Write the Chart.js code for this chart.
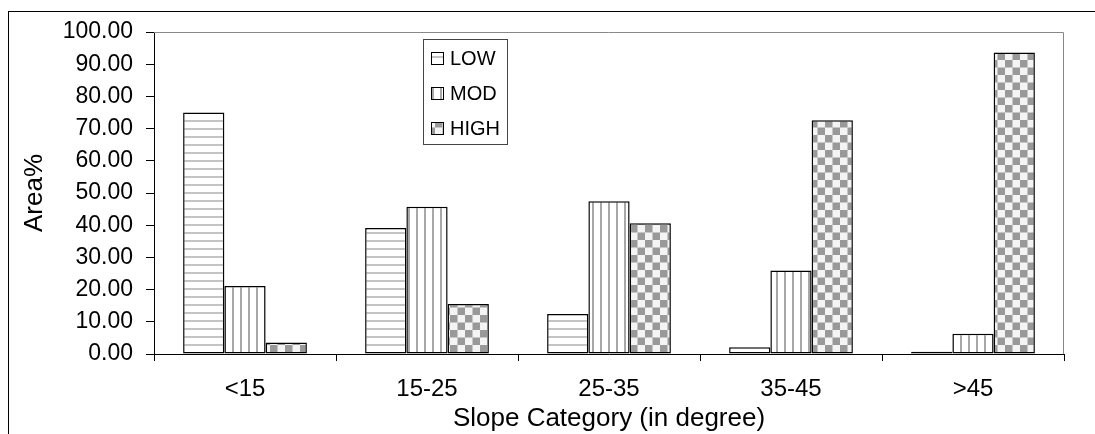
<!DOCTYPE html>
<html>
<head>
<meta charset="utf-8">
<script src="https://cdn.jsdelivr.net/npm/chart.js@4/dist/chart.umd.min.js"></script>
<style>
  html, body { margin: 0; padding: 0; background: #fff; }
  #wrap { position: relative; width: 1095px; height: 434px; }
  #frame { position: absolute; left: 8px; top: 11px; width: 1100px; height: 440px;
           border-left: 1px solid #000; border-top: 1px solid #000; pointer-events: none; }
</style>
</head>
<body>
<div id="wrap">
  <canvas id="chart" width="1095" height="434"></canvas>
  <div id="frame"></div>
</div>
<script>
const categories = ["<15", "15-25", "25-35", "35-45", ">45"];
const lowValues = [75.0, 39.1, 12.4, 2.1, 0.7];
const modValues = [21.1, 45.7, 47.4, 25.9, 6.3];
const highValues = [3.6, 15.5, 40.6, 72.6, 93.6];
const seriesNames = ["LOW", "MOD", "HIGH"];

const FONT = "'Liberation Sans', Arial, sans-serif";

// fill patterns like the old excel ones
function makePattern(kind) {
  const c = document.createElement("canvas");
  const x = c.getContext("2d");
  if (kind === "h") {
    c.width = 8; c.height = 8;
    x.fillStyle = "#fff"; x.fillRect(0, 0, 8, 8);
    x.fillStyle = "#c4c4c4"; x.fillRect(0, 0, 8, 2);
  } else if (kind === "v") {
    c.width = 8; c.height = 8;
    x.fillStyle = "#fff"; x.fillRect(0, 0, 8, 8);
    x.fillStyle = "#a8a8a8"; x.fillRect(0, 0, 2, 8);
  } else {
    c.width = 15; c.height = 15;
    x.fillStyle = "#f4f4f4"; x.fillRect(0, 0, 15, 15);
    x.fillStyle = "#999"; x.fillRect(0, 0, 7.5, 7.5); x.fillRect(7.5, 7.5, 7.5, 7.5);
  }
  return document.getElementById("chart").getContext("2d").createPattern(c, "repeat");
}

const fills = [makePattern("h"), makePattern("v"), makePattern("c")];

const plotFrame = {
  id: "plotFrame",
  afterDatasetsDraw(chart) {
    const { ctx, chartArea: a } = chart;
    ctx.save();
    ctx.strokeStyle = "#888";
    ctx.lineWidth = 1;
    ctx.beginPath();
    ctx.moveTo(a.left, a.top + 0.5);
    ctx.lineTo(a.right - 0.5, a.top + 0.5);
    ctx.lineTo(a.right - 0.5, a.bottom);
    ctx.stroke();
    ctx.restore();
  }
};

const boxLegend = {
  id: "boxLegend",
  afterDraw(chart) {
    const ctx = chart.ctx;
    const bx = 423, by = 39, bw = 84, bh = 105;
    ctx.save();
    ctx.fillStyle = "#fff";
    ctx.fillRect(bx, by, bw, bh);
    ctx.strokeStyle = "#444";
    ctx.lineWidth = 1;
    ctx.strokeRect(bx + 0.5, by + 0.5, bw, bh);
    ctx.font = "20px " + FONT;
    ctx.textBaseline = "middle";
    chart.data.datasets.forEach((ds, i) => {
      const cy = 58 + i * 35;
      ctx.fillStyle = ds.backgroundColor;
      ctx.fillRect(432, cy - 5, 11, 11);
      ctx.strokeStyle = "#000";
      ctx.strokeRect(431.5, cy - 5.5, 12, 12);
      ctx.fillStyle = "#000";
      ctx.fillText(ds.label, 450, cy + 1);
    });
    ctx.restore();
  }
};

new Chart(document.getElementById("chart"), {
  type: "bar",
  data: {
    labels: categories,
    datasets: [lowValues, modValues, highValues].map((vals, i) => ({
      label: seriesNames[i],
      data: vals,
      backgroundColor: fills[i],
      borderColor: "#000",
      borderWidth: 1.5,
      borderSkipped: false,
      categoryPercentage: 0.68,
      barPercentage: 1.0
    }))
  },
  options: {
    responsive: false,
    animation: false,
    layout: { padding: { left: 10, top: 32, right: 31, bottom: 0 } },
    plugins: { legend: { display: false }, tooltip: { enabled: false } },
    scales: {
      x: {
        afterFit(s) { s.height = 80; },
        grid: { display: true, offset: true, drawOnChartArea: false, drawTicks: true, tickLength: 7, color: "#000" },
        border: { color: "#000", width: 1 },
        ticks: { color: "#000", font: { family: FONT, size: 24 }, padding: 14, maxRotation: 0 },
        title: { display: true, text: "Slope Category (in degree)", color: "#000", font: { family: FONT, size: 26 }, padding: { top: 0, bottom: 0 } }
      },
      y: {
        min: 0,
        max: 100,
        afterFit(s) { s.width = 144; },
        grid: { display: true, drawOnChartArea: false, drawTicks: true, tickLength: 8, color: "#000" },
        border: { color: "#000", width: 1 },
        ticks: {
          stepSize: 10,
          color: "#000",
          font: { family: FONT, size: 23 },
          padding: 13,
          callback: (v) => v.toFixed(2)
        },
        title: { display: true, text: "Area%", color: "#000", font: { family: FONT, size: 26 }, padding: 9 }
      }
    }
  },
  plugins: [plotFrame, boxLegend]
});
</script>
</body>
</html>
